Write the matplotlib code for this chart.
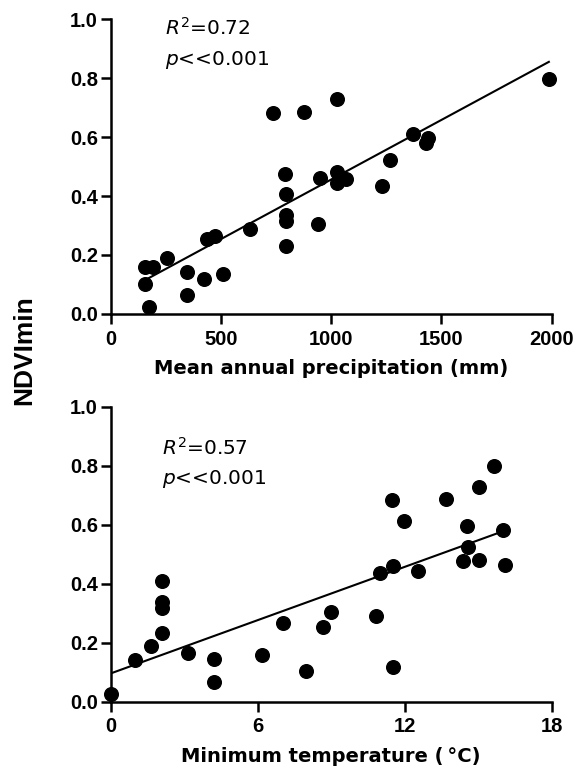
import numpy as np
import matplotlib
matplotlib.use("Agg")
import matplotlib.pyplot as plt

# NDVImin vs mean annual precipitation
precip = [155, 193, 154, 172, 254, 346, 346, 424, 435, 471, 511, 633, 734,
          792, 795, 795, 795, 795, 878, 941, 949, 1027, 1027, 1024, 1065,
          1228, 1268, 1369, 1440, 1432, 1987]
ndvi_p = [0.160, 0.158, 0.100, 0.023, 0.189, 0.143, 0.065, 0.118, 0.253,
          0.264, 0.136, 0.288, 0.680, 0.473, 0.408, 0.336, 0.315, 0.229,
          0.686, 0.304, 0.462, 0.728, 0.480, 0.443, 0.458, 0.435, 0.522,
          0.609, 0.596, 0.581, 0.797]
fit_p = (0.000404, 0.052)   # slope, intercept

# NDVImin vs minimum temperature
tmin = [0.0, 0.98, 1.63, 2.08, 2.08, 2.08, 2.08, 3.16, 4.2, 4.2, 6.18, 7.02,
        7.95, 8.68, 8.99, 10.83, 10.99, 11.48, 11.51, 11.54, 11.97, 12.53,
        13.69, 14.39, 14.53, 14.60, 15.03, 15.05, 15.65, 16.0, 16.11]
ndvi_t = [0.025, 0.141, 0.190, 0.232, 0.319, 0.338, 0.409, 0.164, 0.146,
          0.067, 0.159, 0.267, 0.104, 0.254, 0.304, 0.290, 0.435, 0.684,
          0.460, 0.119, 0.612, 0.443, 0.688, 0.476, 0.595, 0.524, 0.729,
          0.481, 0.799, 0.582, 0.464]
fit_t = (0.0301, 0.096)

yticks = [0.0, 0.2, 0.4, 0.6, 0.8, 1.0]

plt.rcParams['font.family'] = ['DejaVu Sans']
plt.rcParams['mathtext.fontset'] = 'dejavusans'

fig = plt.figure(figsize=(5.77, 7.73), dpi=100)
ax1 = fig.add_axes([0.1919, 0.5938, 0.7643, 0.3816])
ax2 = fig.add_axes([0.1919, 0.0922, 0.7643, 0.3816])


def style(ax, xticks, xlabel):
    for s in ['top', 'right']:
        ax.spines[s].set_visible(False)
    for s in ['left', 'bottom']:
        ax.spines[s].set_linewidth(1.8)
    ax.set_ylim(0, 1.0)
    ax.set_xlim(xticks[0], xticks[-1])
    ax.set_yticks(yticks)
    ax.set_yticklabels(['%.1f' % v for v in yticks])
    ax.set_xticks(xticks)
    ax.tick_params(axis='both', length=7.2, width=1.8, direction='out')
    ax.tick_params(axis='y', pad=2)
    ax.tick_params(axis='x', pad=4)
    for lab in ax.get_xticklabels() + ax.get_yticklabels():
        lab.set_fontweight('bold')
        lab.set_fontsize(14.5)
        lab.set_family(['Liberation Sans'])
    ax.set_xlabel(xlabel, fontsize=14, fontweight='bold', labelpad=7.5)


# top panel
ax1.plot(precip, ndvi_p, 'o', color='black', ms=9.8, clip_on=False, zorder=5)
xx = np.array([min(precip), max(precip)])
ax1.plot(xx, fit_p[0] * xx + fit_p[1], color='black', lw=1.5, zorder=4)
style(ax1, [0, 500, 1000, 1500, 2000], 'Mean annual precipitation (mm)')
ax1.text(246, 0.946, r'$R^2$=0.72', fontsize=14.5, va='baseline')
ax1.text(246, 0.844, r'$p$<<0.001', fontsize=14.5, va='baseline')

# bottom panel
ax2.plot(tmin, ndvi_t, 'o', color='black', ms=9.8, clip_on=False, zorder=5)
xx = np.array([min(tmin), max(tmin)])
ax2.plot(xx, fit_t[0] * xx + fit_t[1], color='black', lw=1.5, zorder=4)
style(ax2, [0, 6, 12, 18], 'Minimum temperature (\u2009°C)')
ax2.text(2.08, 0.836, r'$R^2$=0.57', fontsize=14.5, va='baseline')
ax2.text(2.08, 0.738, r'$p$<<0.001', fontsize=14.5, va='baseline')

fig.text(0.042, 0.547, 'NDVImin', rotation=90, ha='center', va='center',
         fontsize=19, fontweight='bold', family=['Liberation Sans'])

fig.savefig('out.png', dpi=100)
